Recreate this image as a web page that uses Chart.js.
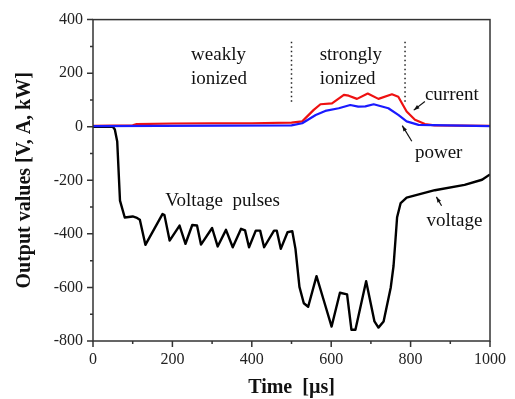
<!DOCTYPE html>
<html>
<head>
<meta charset="utf-8">
<script src="https://cdn.jsdelivr.net/npm/chart.js@4.4.1/dist/chart.umd.min.js"></script>
<style>
  html, body { margin: 0; padding: 0; background: #fff; }
</style>
</head>
<body>
<canvas id="chart" width="515" height="399"></canvas>
<script>
// voltage trace (black)
const voltageTime = [0, 50, 55, 61, 68, 80, 100, 109, 118, 132, 175, 180, 193, 218, 233, 250, 262, 272, 300, 314,
  335, 352, 373, 383, 393, 410, 421, 431, 456, 463, 473, 490, 502, 510, 520, 531, 542, 563, 581, 601,
  622, 640, 651, 661, 688, 709, 719, 732, 750, 757, 762, 766, 775, 790, 861, 936, 980, 1000];
const voltage = [0, 0, -10, -55, -276, -339, -335, -339, -347, -441, -326, -330, -425, -369, -437, -367, -369, -440, -378, -447,
  -385, -450, -381, -387, -450, -388, -388, -450, -388, -388, -456, -394, -390, -456, -598, -659, -672, -558, -647, -746,
  -620, -626, -758, -758, -577, -727, -750, -727, -600, -520, -420, -338, -285, -265, -237, -217, -198, -178];

// current trace (red)
const currentTime = [0, 100, 110, 200, 300, 400, 500, 527, 556, 573, 602, 632, 644, 665, 692, 719, 753, 769, 790, 811,
  836, 860, 1000];
const current = [3, 5, 10, 12, 13, 13, 15, 20, 63, 84, 87, 119, 116, 104, 124, 104, 121, 112, 57, 26,
  10, 5, 3];

// power trace (blue)
const powerTime = [0, 500, 527, 561, 585, 619, 648, 668, 686, 707, 744, 769, 790, 820, 1000];
const power = [2, 5, 13, 44, 59, 69, 81, 75, 76, 84, 69, 44, 20, 7, 2];

// regime borders (dotted)
const borderTimes = [500, 786];
const borderSpan = [93, 325];

const xMajor = [0, 200, 400, 600, 800, 1000];
const yMajor = [-800, -600, -400, -200, 0, 200, 400];

const serif = '"Liberation Serif", "Times New Roman", serif';

const toPoints = (xs, ys) => xs.map((x, i) => ({ x, y: ys[i] }));

const datasets = [
  { label: 'power', data: toPoints(powerTime, power), borderColor: '#1a1aff', borderWidth: 2.2 },
  { label: 'current', data: toPoints(currentTime, current), borderColor: '#ee1111', borderWidth: 2.2 },
  { label: 'voltage', data: toPoints(voltageTime, voltage), borderColor: '#000', borderWidth: 2.4 }
];
borderTimes.forEach(t => {
  datasets.push({
    label: 'border', data: borderSpan.map(v => ({ x: t, y: v })),
    borderColor: '#222', borderWidth: 1.5, borderDash: [1.5, 3]
  });
});

const notes = [
  { text: 'weakly', x: 247, y: 268 },
  { text: 'ionized', x: 247, y: 180 },
  { text: 'strongly', x: 571, y: 268 },
  { text: 'ionized', x: 571, y: 180 },
  { text: 'current', x: 836, y: 120 },
  { text: 'power', x: 811, y: -98 },
  { text: 'voltage', x: 840, y: -351 },
  { text: 'Voltage  pulses', x: 182, y: -277 }
];
const arrows = [
  { from: [836, 94], to: [808, 62] },
  { from: [803, -54], to: [779, 4] },
  { from: [878, -295], to: [865, -262] }
];

const decor = {
  id: 'decor',
  afterDraw(chart) {
    const { ctx, chartArea: a, scales: { x, y } } = chart;
    ctx.save();
    // frame
    ctx.strokeStyle = '#333';
    ctx.lineWidth = 1.5;
    ctx.strokeRect(a.left, a.top, a.right - a.left, a.bottom - a.top);
    // tick marks, major and minor
    ctx.beginPath();
    x.ticks.forEach(t => {
      const px = x.getPixelForValue(t.value);
      const len = xMajor.includes(t.value) ? 6 : 3;
      ctx.moveTo(px, a.bottom);
      ctx.lineTo(px, a.bottom + len);
    });
    y.ticks.forEach(t => {
      const py = y.getPixelForValue(t.value);
      const len = yMajor.includes(t.value) ? 6 : 3;
      ctx.moveTo(a.left, py);
      ctx.lineTo(a.left - len, py);
    });
    ctx.stroke();
    // labels
    ctx.fillStyle = '#111';
    ctx.font = '19px ' + serif;
    ctx.textAlign = 'left';
    ctx.textBaseline = 'middle';
    notes.forEach(n => ctx.fillText(n.text, x.getPixelForValue(n.x), y.getPixelForValue(n.y)));
    // arrows
    ctx.strokeStyle = '#111';
    ctx.lineWidth = 1.2;
    arrows.forEach(ar => {
      const x1 = x.getPixelForValue(ar.from[0]), y1 = y.getPixelForValue(ar.from[1]);
      const x2 = x.getPixelForValue(ar.to[0]), y2 = y.getPixelForValue(ar.to[1]);
      const ang = Math.atan2(y2 - y1, x2 - x1);
      ctx.beginPath();
      ctx.moveTo(x1, y1);
      ctx.lineTo(x2, y2);
      ctx.stroke();
      ctx.beginPath();
      ctx.moveTo(x2, y2);
      ctx.lineTo(x2 - 6 * Math.cos(ang - 0.35), y2 - 6 * Math.sin(ang - 0.35));
      ctx.lineTo(x2 - 6 * Math.cos(ang + 0.35), y2 - 6 * Math.sin(ang + 0.35));
      ctx.closePath();
      ctx.fill();
    });
    ctx.restore();
  }
};

new Chart(document.getElementById('chart'), {
  type: 'line',
  data: { datasets },
  options: {
    responsive: false,
    animation: false,
    devicePixelRatio: 1,
    layout: { padding: { left: 0, right: 23, top: 17, bottom: 0 } },
    elements: {
      point: { radius: 0 },
      line: { tension: 0, fill: false, borderJoinStyle: 'round' }
    },
    plugins: { legend: { display: false }, tooltip: { enabled: false } },
    scales: {
      x: {
        type: 'linear', min: 0, max: 1000,
        afterFit: s => { s.height = 58; },
        grid: { display: false, drawTicks: false },
        border: { display: false },
        ticks: {
          stepSize: 100, autoSkip: false, maxRotation: 0, padding: 9, color: '#222',
          font: { family: serif, size: 16 },
          callback: v => xMajor.includes(v) ? String(v) : ''
        },
        title: {
          display: true, text: 'Time  [\u00b5s]', color: '#111',
          font: { family: serif, size: 20, weight: 'bold', lineHeight: 1 },
          padding: { top: 0, bottom: 1 }
        }
      },
      y: {
        type: 'linear', min: -800, max: 400,
        afterFit: s => { s.width = 93; },
        grid: { display: false, drawTicks: false },
        border: { display: false },
        ticks: {
          stepSize: 100, autoSkip: false, padding: 10, color: '#222',
          font: { family: serif, size: 16 },
          callback: v => yMajor.includes(v) ? String(v) : ''
        },
        title: {
          display: true, text: 'Output values [V, A, kW]', color: '#111',
          font: { family: serif, size: 20, weight: 'bold', lineHeight: 1 },
          padding: { top: 15, bottom: 0 }
        }
      }
    }
  },
  plugins: [decor]
});
</script>
</body>
</html>
